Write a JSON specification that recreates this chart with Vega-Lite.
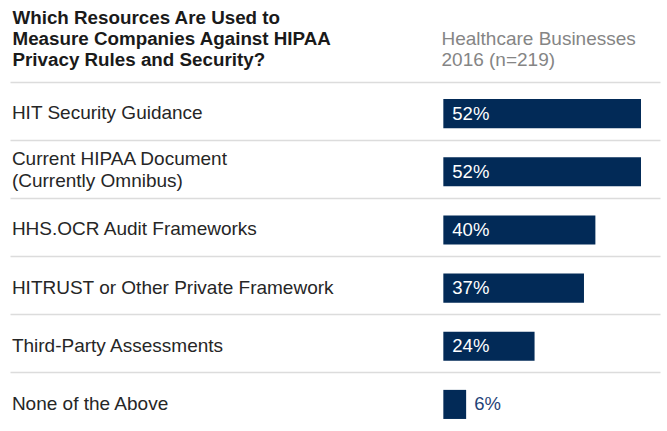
{
  "$schema": "https://vega.github.io/schema/vega-lite/v6.json",
  "autosize": {"type": "none"},
  "width": 650,
  "height": 349,
  "padding": {"left": 10, "top": 82, "right": 7, "bottom": 0},
  "background": "white",
  "config": {"view": {"stroke": null}, "font": "Liberation Sans"},
  "data": {
    "values": [
      {"cat": "HIT Security Guidance", "lines": ["HIT Security Guidance"], "value": 52, "label": "52%"},
      {"cat": "Current HIPAA Document", "lines": ["Current HIPAA Document", "(Currently Omnibus)"], "value": 52, "label": "52%"},
      {"cat": "HHS.OCR Audit Frameworks", "lines": ["HHS.OCR Audit Frameworks"], "value": 40, "label": "40%"},
      {"cat": "HITRUST or Other Private Framework", "lines": ["HITRUST or Other Private Framework"], "value": 37, "label": "37%"},
      {"cat": "Third-Party Assessments", "lines": ["Third-Party Assessments"], "value": 24, "label": "24%"},
      {"cat": "None of the Above", "lines": ["None of the Above"], "value": 6, "label": "6%"}
    ]
  },
  "encoding": {
    "y": {
      "field": "cat",
      "type": "nominal",
      "sort": null,
      "scale": {"paddingInner": 0.5, "paddingOuter": 0.25},
      "axis": {
        "labels": false,
        "ticks": false,
        "domain": false,
        "grid": true,
        "gridColor": "#dcdcdc",
        "gridWidth": 1.5,
        "bandPosition": -0.5,
        "title": ["Which Resources Are Used to", "Measure Companies Against HIPAA", "Privacy Rules and Security?"],
        "titleAngle": 0,
        "titleX": 2,
        "titleY": -74,
        "titleAlign": "left",
        "titleBaseline": "top",
        "titleFont": "Liberation Sans",
        "titleFontSize": 18.8,
        "titleFontWeight": "bold",
        "titleLineHeight": 21,
        "titleColor": "#1a1a1a"
      }
    }
  },
  "layer": [
    {
      "mark": {"type": "bar", "color": "#022a57", "yOffset": 2.5},
      "encoding": {
        "x": {
          "field": "value",
          "type": "quantitative",
          "scale": {"domain": [-114, 57], "nice": false, "zero": false},
          "axis": {
            "orient": "top",
            "labels": false,
            "ticks": false,
            "domain": false,
            "grid": false,
            "title": ["Healthcare Businesses", "2016 (n=219)"],
            "titleX": 431,
            "titleY": -53,
            "titleAlign": "left",
            "titleBaseline": "top",
            "titleFont": "Liberation Sans",
            "titleFontSize": 19,
            "titleFontWeight": "normal",
            "titleLineHeight": 21,
            "titleColor": "#858585"
          }
        },
        "x2": {"datum": 0}
      }
    },
    {
      "transform": [{"filter": "length(datum.lines) == 1"}],
      "mark": {"type": "text", "align": "left", "baseline": "middle", "fontSize": 19, "dy": 2, "color": "#262626"},
      "encoding": {
        "x": {"datum": -113.5},
        "text": {"field": "lines"}
      }
    },
    {
      "transform": [{"filter": "length(datum.lines) > 1"}],
      "mark": {"type": "text", "align": "left", "baseline": "middle", "fontSize": 19, "lineHeight": 22, "dy": -10, "color": "#262626"},
      "encoding": {
        "x": {"datum": -113.5},
        "text": {"field": "lines"}
      }
    },
    {
      "transform": [{"filter": "datum.value >= 10"}],
      "mark": {"type": "text", "align": "left", "baseline": "middle", "fontSize": 18.5, "dx": 9, "dy": 2.5, "color": "white"},
      "encoding": {
        "x": {"datum": 0},
        "text": {"field": "label"}
      }
    },
    {
      "transform": [{"filter": "datum.value < 10"}],
      "mark": {"type": "text", "align": "left", "baseline": "middle", "fontSize": 18.5, "dx": 8, "dy": 2.5, "color": "#1f4478"},
      "encoding": {
        "x": {"field": "value", "type": "quantitative"},
        "text": {"field": "label"}
      }
    }
  ]
}
